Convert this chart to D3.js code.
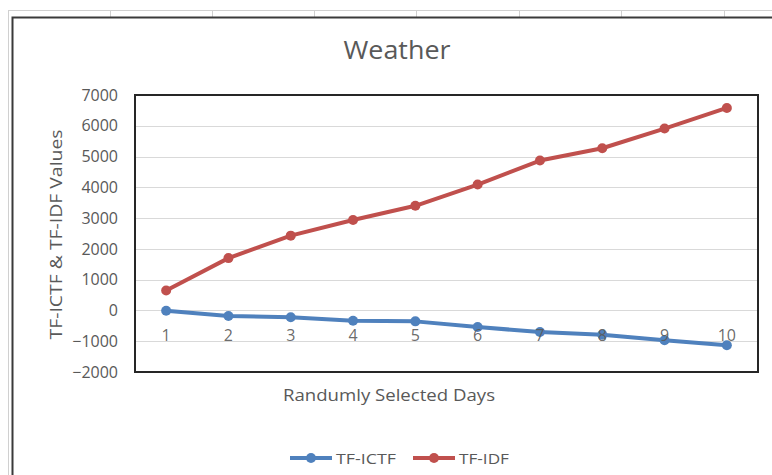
<!DOCTYPE html>
<html>
<head>
<meta charset="utf-8">
<script src="https://cdn.jsdelivr.net/npm/d3@7/dist/d3.min.js"></script>
<style>
  html, body { margin: 0; padding: 0; background: #fff; }
  svg { display: block; }
  text { font-family: "Open Sans", Lato, sans-serif; fill: #595959; }
</style>
</head>
<body>
<svg id="chart" width="772" height="475"></svg>
<script>
// Days on the category axis
const days = ["1", "2", "3", "4", "5", "6", "7", "8", "9", "10"];
// Series values per day
const tfIctf = [-10, -180, -220, -335, -355, -540, -700, -790, -970, -1130];
const tfIdf = [650, 1700, 2430, 2940, 3400, 4090, 4870, 5270, 5910, 6580];
// Value axis ticks
const yTicks = [-2000, -1000, 0, 1000, 2000, 3000, 4000, 5000, 6000, 7000];

const series = [
  { name: "TF-ICTF", values: tfIctf, color: "#4F81BD", textWidth: 60 },
  { name: "TF-IDF", values: tfIdf, color: "#C0504D", textWidth: 50 }
];

const FONT = "'Open Sans', Lato, sans-serif";
const svg = d3.select("#chart");

// Worksheet grid behind the chart object
const sheet = svg.append("g");
sheet.append("line").attr("x1", 8).attr("x2", 772).attr("y1", 10.5).attr("y2", 10.5)
  .attr("stroke", "#d0d0d0");
sheet.append("line").attr("x1", 8.5).attr("x2", 8.5).attr("y1", 10).attr("y2", 475)
  .attr("stroke", "#d0d0d0");
[110, 212, 314, 416, 519, 621, 724].forEach(x => {
  sheet.append("line").attr("x1", x + 0.5).attr("x2", x + 0.5).attr("y1", 10).attr("y2", 17)
    .attr("stroke", "#d0d0d0");
});

// Chart object frame
svg.append("path")
  .attr("d", "M12.5,475 V17.5 H772")
  .attr("fill", "none").attr("stroke", "#3a3a3a").attr("stroke-width", 2);

const plot = { left: 135, right: 758, top: 95, bottom: 372 };

const x = d3.scaleBand().domain(days).range([plot.left, plot.right]);
const y = d3.scaleLinear().domain([-2000, 7000]).range([plot.bottom, plot.top]);
const cx = d => x(d) + x.bandwidth() / 2;

// Gridlines
svg.append("g")
  .selectAll("line").data(yTicks).join("line")
  .attr("x1", plot.left).attr("x2", plot.right)
  .attr("y1", d => Math.round(y(d)) + 0.5).attr("y2", d => Math.round(y(d)) + 0.5)
  .attr("stroke", "#d9d9d9").attr("stroke-width", 1);

// Value axis labels
const yAxis = d3.axisLeft(y).tickValues(yTicks).tickSize(0).tickPadding(0)
  .tickFormat(d3.format("d"));
svg.append("g")
  .attr("transform", `translate(${plot.left - 17},0)`)
  .call(yAxis)
  .call(g => g.select(".domain").remove())
  .call(g => g.selectAll("text").attr("font-size", 16).attr("fill", "#595959")
    .style("font-family", FONT));

// Lines and markers
const line = d3.line().x((d, i) => cx(days[i])).y(d => y(d));
series.forEach(s => {
  svg.append("path").datum(s.values)
    .attr("d", line)
    .attr("fill", "none").attr("stroke", s.color)
    .attr("stroke-width", 4).attr("stroke-linejoin", "round").attr("stroke-linecap", "round");
  svg.append("g").selectAll("circle").data(s.values).join("circle")
    .attr("cx", (d, i) => cx(days[i])).attr("cy", d => y(d))
    .attr("r", 5).attr("fill", s.color);
});

// Category labels sit under the zero line, drawn over the series
const xAxis = d3.axisBottom(x).tickSize(0).tickPadding(0);
svg.append("g")
  .attr("transform", `translate(0,${y(0) + 19})`)
  .call(xAxis)
  .call(g => g.select(".domain").remove())
  .call(g => g.selectAll("text").attr("font-size", 16).attr("fill", "#595959")
    .attr("fill-opacity", 0.9).style("font-family", FONT));

// Plot area border
svg.append("rect")
  .attr("x", plot.left).attr("y", plot.top)
  .attr("width", plot.right - plot.left).attr("height", plot.bottom - plot.top)
  .attr("fill", "none").attr("stroke", "#262626").attr("stroke-width", 2);

// Title
svg.append("text").attr("x", 397).attr("y", 59).attr("text-anchor", "middle")
  .attr("font-size", 25).attr("textLength", 107).attr("lengthAdjust", "spacingAndGlyphs")
  .text("Weather");

// Axis titles
svg.append("text").attr("x", 389).attr("y", 401).attr("text-anchor", "middle")
  .attr("font-size", 16.5).attr("textLength", 212).attr("lengthAdjust", "spacingAndGlyphs")
  .text("Randumly Selected Days");
svg.append("text")
  .attr("transform", `translate(62,${(plot.top + plot.bottom) / 2 + 1}) rotate(-90)`)
  .attr("text-anchor", "middle").attr("font-size", 16.5)
  .attr("textLength", 210).attr("lengthAdjust", "spacingAndGlyphs")
  .text("TF-ICTF & TF-IDF Values");

// Legend
const legend = svg.append("g");
const legendX = [290, 413];
series.forEach((s, i) => {
  const lx = legendX[i], ly = 458;
  legend.append("line").attr("x1", lx).attr("x2", lx + 42).attr("y1", ly).attr("y2", ly)
    .attr("stroke", s.color).attr("stroke-width", 4);
  legend.append("circle").attr("cx", lx + 21).attr("cy", ly).attr("r", 5).attr("fill", s.color);
  legend.append("text").attr("x", lx + 46).attr("y", ly + 5.5)
    .attr("font-size", 15).attr("textLength", s.textWidth).attr("lengthAdjust", "spacingAndGlyphs")
    .text(s.name);
});
</script>
</body>
</html>
